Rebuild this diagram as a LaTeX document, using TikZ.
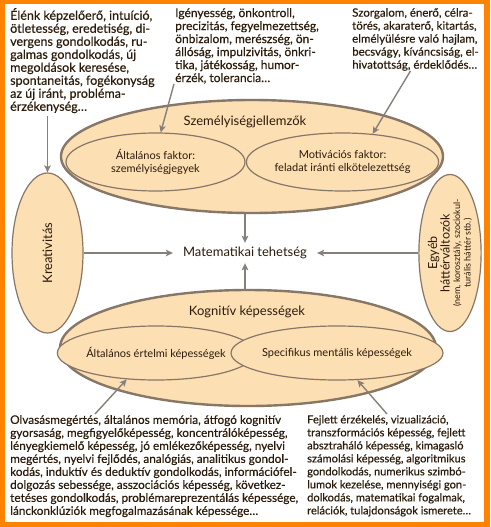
\documentclass[tikz,border=0pt]{standalone}
\usepackage{fontspec}
\setmainfont{Lato}
\newfontfamily\sotetbetu{Lato}[FakeBold=0.35]
\usetikzlibrary{shapes.geometric,arrows.meta}
\definecolor{keret}{HTML}{FF8200}
\definecolor{barack}{HTML}{FDDFB4}
\definecolor{vonal}{HTML}{877766}
\definecolor{nyilszin}{HTML}{86807A}
\definecolor{betu}{HTML}{2B1B0A}
\begin{document}
\begin{tikzpicture}[
		x=1pt, y=-1pt,
		kulso/.style={
			ellipse, draw=vonal, line width=2.4pt, fill=barack, inner sep=0pt
		},
		belso/.style={
			ellipse, draw=vonal, line width=1.2pt, fill=barack, inner sep=0pt, align=center,
			text=betu, font=\fontsize{11}{13.5}\selectfont
		},
		cim/.style={
			text=betu, inner sep=0pt, font=\fontsize{13}{15}\selectfont
		},
		leiras/.style={
			anchor=north west, align=left, inner sep=0pt, text=betu,
			font=\sotetbetu\fontsize{#1}{13}\selectfont
		},
		leiras/.default=12,
		nyil/.style={
			draw=nyilszin, line width=1.4pt, -{Stealth[length=7pt, width=6.5pt, inset=1.5pt]}
		}
		]
		
		% keret
		\fill[keret] (0,0) rectangle (490,527);
		\fill[white] (5,4) rectangle (484,522);
		\useasboundingbox (0,0) rectangle (490,527);
		
		% szovegdobozok
		\node[leiras=12.5] (blokk1) at (10,8) {Élénk képzelőerő, intuíció,\\ötletesség, eredetiség, di-\\vergens gondolkodás, ru-\\galmas gondolkodás, új\\megoldások keresése,\\spontaneitás, fogékonyság\\az új iránt, probléma-\\érzékenység…};
		\node[leiras] (blokk2) at (175,8) {Igényesség, önkontroll,\\precizitás, fegyelmezettség,\\önbizalom, merészség, ön-\\állóság, impulzivitás, önkri-\\tika, játékosság, humor-\\érzék, tolerancia…};
		\node[leiras=11.5] (blokk3) at (352,8) {Szorgalom, énerő, célra-\\törés, akaraterő, kitartás,\\elmélyülésre való hajlam,\\becsvágy, kíváncsiság, el-\\hivatottság, érdeklődés…};
		\node[leiras=11.8] (blokk4) at (10,415) {Olvasásmegértés, általános memória, átfogó kognitív\\gyorsaság, megfigyelőképesség, koncentrálóképesség,\\lényegkiemelő képesség, jó emlékezőképesség, nyelvi\\megértés, nyelvi fejlődés, analógiás, analitikus gondol-\\kodás, induktív és deduktív gondolkodás, információfel-\\dolgozás sebessége, asszociációs képesség, következ-\\tetéses gondolkodás, problémareprezentálás képessége,\\lánckonklúziók megfogalmazásának képessége…};
		\node[leiras=11.1] (blokk5) at (307,415) {Fejlett érzékelés, vizualizáció,\\transzformációs képesség, fejlett\\absztraháló képesség, kimagasló\\számolási képesség, algoritmikus\\gondolkodás, numerikus szimbó-\\lumok kezelése, mennyiségi gon-\\dolkodás, matematikai fogalmak,\\relációk, tulajdonságok ismerete…};
		
		% szemelyisegjellemzok
		\node[kulso, minimum width=382, minimum height=113] (szemely) at (252,156.5) {};
		\node[cim] (szemelycim) at (245,122) {Személyiségjellemzők};
		\node[belso, minimum width=179, minimum height=58] (altfaktor) at (155.5,162) {Általános faktor:\\személyiségjegyek};
		\node[belso, minimum width=191, minimum height=58] (motfaktor) at (342.5,162) {Motivációs faktor:\\feladat iránti elkötelezettség};
		
		% kognitiv kepessegek
		\node[kulso, minimum width=376, minimum height=116] (kognitiv) at (248,348) {};
		\node[cim] (kognitivcim) at (247,312) {Kognitív képességek};
		\node[belso, minimum width=180, minimum height=54] (altertelmi) at (156,353) {Általános értelmi képességek};
		\node[belso, minimum width=182, minimum height=54] (specmental) at (337,353) {Specifikus mentális képességek};
		
		% oldalso ellipszisek
		\node[belso, rotate=90, minimum width=160, minimum height=71, font=\fontsize{13}{15}\selectfont] (kreativ) at (47.5,253) {Kreativitás};
		\node[belso, rotate=90, minimum width=157, minimum height=52, font=\fontsize{9}{10.5}\selectfont] (egyeb) at (450,253)
		{{\fontsize{12.5}{11}\selectfont Egyéb}\\{\fontsize{12.5}{12}\selectfont háttérváltozók}\\(nem, korosztály, szociokul-\\turális háttér stb.)};
		
		\node[cim, inner xsep=10pt, inner ysep=4pt] (tehetseg) at (245,253) {Matematikai tehetség};
		
		% nyilak
		\draw[nyil] (szemely.south -| tehetseg) -- (tehetseg);
		\draw[nyil] (kognitiv.north -| tehetseg) -- (tehetseg);
		\draw[nyil] (kreativ) -- (tehetseg);
		\draw[nyil] (egyeb) -- (tehetseg);
		\draw[nyil] ([yshift=-3pt]kreativ.center |- blokk1.south) -- (kreativ);
		\draw[nyil] ([xshift=-1pt]blokk2.south west) -- (altfaktor.80);
		\draw[nyil] ([xshift=-5pt]blokk3.south) -- (motfaktor.43);
		\draw[nyil] ([xshift=85pt, yshift=1pt]blokk4.north west) -- (altertelmi.222);
		\draw[nyil] ([xshift=80pt, yshift=1pt]blokk5.north west) -- (specmental.307);
	\end{tikzpicture}
\end{document}
